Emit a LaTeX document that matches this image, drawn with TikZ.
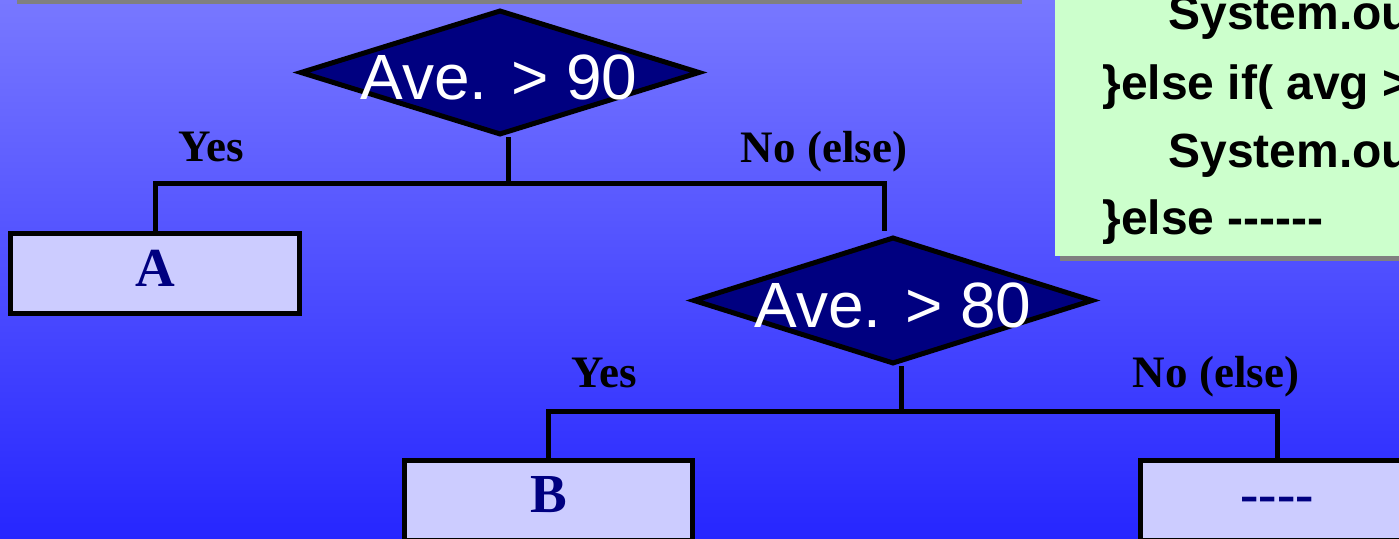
\documentclass[tikz,border=0pt]{standalone}
\usepackage{fontspec}
\setmainfont{Liberation Serif}[Ligatures=TeXOff]
\setsansfont{Liberation Sans}[Ligatures=TeXOff]
\usetikzlibrary{shapes.geometric}

\definecolor{bgtop}{RGB}{120,120,255}
\definecolor{bgbot}{RGB}{38,38,255}
\definecolor{navy}{RGB}{0,0,128}
\definecolor{boxfill}{RGB}{204,204,255}
\definecolor{codefill}{RGB}{204,255,204}
\definecolor{shadowgray}{RGB}{128,128,128}

\begin{document}
\begin{tikzpicture}[x=0.5pt,y=-0.5pt,
  wire/.style={draw=black, line width=2.5pt},
  decision/.style={diamond, draw=black, line width=2.5pt, fill=navy,
    minimum width=200pt, inner sep=0pt},
  dectext/.style={anchor=base, text=white, inner sep=0pt,
    font=\sffamily\fontsize{32}{38}\selectfont},
  outcome/.style={rectangle, draw=black, line width=2.5pt, fill=boxfill,
    minimum height=40pt, inner sep=0pt},
  outtext/.style={anchor=base, text=navy, inner sep=0pt,
    font=\bfseries\fontsize{27.5}{33}\selectfont},
  branch/.style={anchor=base, text=black, inner sep=0pt,
    font=\bfseries\fontsize{22.5}{27}\selectfont},
  codeline/.style={anchor=base west, text=black, inner sep=0pt,
    font=\sffamily\bfseries\fontsize{24}{29}\selectfont}]

% frame and background
\useasboundingbox (0,0) rectangle (1399,539);
\clip (0,0) rectangle (1399,539);
\shade[top color=bgtop, bottom color=bgbot] (0,0) rectangle (1399,539);
\fill[shadowgray] (17,0) rectangle (1022,4);

% code panel with its drop shadow
\fill[shadowgray] (1060,-5) rectangle (1430,261);
\fill[codefill] (1055,-10) rectangle (1425,256);
\node[codeline] (c1) at (1168,30)  {System.out};
\node[codeline] (c2) at (1102,100) {\}else if( avg >};
\node[codeline] (c3) at (1168,168) {System.out};
\node[codeline] (c4) at (1102,235) {\}else ------};

% decisions
\node[decision, minimum height=62.5pt] (d1) at (500,72.5) {};
\node[dectext] (t1) at (499,100) {Ave. > 90};
\node[decision, minimum height=63.5pt] (d2) at (893,300.5) {};
\node[dectext] (t2) at (893,328) {Ave. > 80};

% outcomes
\node[outcome, minimum width=144.5pt] (A) at (155,273.5) {};
\node[outtext] (tA) at (155,287) {A};
\node[outcome, minimum width=144pt] (B) at (548.5,500.5) {};
\node[outtext] (tB) at (548.5,513) {B};
\node[outcome, minimum width=136.5pt] (E) at (1277,500.5) {};
\node[outtext] (tE) at (1277,513) {----};

% branch labels
\node[branch] (y1) at (211,162)  {Yes};
\node[branch] (n1) at (824,163)  {No (else)};
\node[branch] (y2) at (604,388)  {Yes};
\node[branch] (n2) at (1216,388) {No (else)};

% junctions
\coordinate (j1)  at (508,184);
\coordinate (j1R) at (884,184);
\coordinate (e1)  at (884,231);
\coordinate (j2)  at (901,412);
\coordinate (j2R) at (1277,412);

% connectors
\draw[wire] (d1.south -| j1) -- (j1);
\draw[wire] (A.north) |- (j1R) -- (e1);
\draw[wire] (d2.south -| j2) -- (j2);
\draw[wire] (B.north) |- (j2R) -- (E.north);
\end{tikzpicture}
\end{document}
